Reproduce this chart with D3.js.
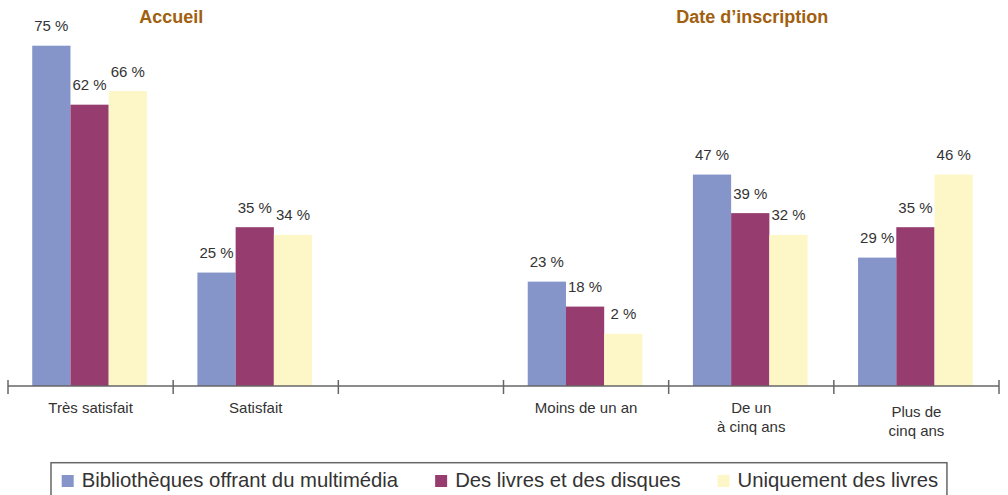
<!DOCTYPE html>
<html>
<head>
<meta charset="utf-8">
<script src="https://cdn.jsdelivr.net/npm/d3@7"></script>
<style>
  body { margin: 0; background: #fff; }
  svg { display: block; font-family: "Liberation Sans", Arial, sans-serif; }
</style>
</head>
<body>
<div id="chart"></div>
<script>
// categories along the axis (empty slot between the two blocks)
const categories = ["Très satisfait", "Satisfait", "", "Moins de un an", "De un\nà cinq ans", "Plus de\ncinq ans"];
const series = ["Bibliothèques offrant du multimédia", "Des livres et des disques", "Uniquement des livres"];

// bar heights as drawn
const multimedia = [75, 25, null, 23, 46.6, 28.3];
const livresDisques = [62, 35, null, 17.5, 38.1, 35];
const livresSeuls = [65, 33.3, null, 11.5, 33.3, 46.6];

// values printed above the bars
const multimediaLabels = ["75 %", "25 %", "", "23 %", "47 %", "29 %"];
const livresDisquesLabels = ["62 %", "35 %", "", "18 %", "39 %", "35 %"];
const livresSeulsLabels = ["66 %", "34 %", "", "2 %", "32 %", "46 %"];

// block titles
const titles = ["Accueil", "Date d\u2019inscription"];

const colors = ["#8595c9", "#963c6e", "#fdf7c8"];
const textColor = "#333";

const width = 1008;
const height = 495;
const axisY = 386;

const svg = d3.select("#chart")
  .append("svg")
  .attr("width", width)
  .attr("height", height);

// build rows from the arrays
const valueSets = [multimedia, livresDisques, livresSeuls];
const labelSets = [multimediaLabels, livresDisquesLabels, livresSeulsLabels];
const rows = [];
categories.forEach((c, i) => {
  series.forEach((s, j) => {
    if (valueSets[j][i] != null) {
      rows.push({ cat: c, serie: s, idx: j, value: valueSets[j][i], label: labelSets[j][i] });
    }
  });
});

// scales
const x = d3.scaleBand()
  .domain(categories)
  .range([8, 999])
  .padding(0);

const xSub = d3.scaleBand()
  .domain(series)
  .range([0, x.bandwidth()])
  .paddingInner(0)
  .paddingOuter(0.66);

const y = d3.scaleLinear()
  .domain([0, 75])
  .range([axisY, 45.7]);

// bars
svg.append("g")
  .selectAll("rect")
  .data(rows)
  .join("rect")
  .attr("x", d => x(d.cat) + xSub(d.serie) - 1)
  .attr("y", d => y(d.value))
  .attr("width", xSub.bandwidth())
  .attr("height", d => y(0) - y(d.value))
  .attr("fill", d => colors[d.idx]);

// value labels
svg.append("g")
  .selectAll("text")
  .data(rows)
  .join("text")
  .attr("x", d => x(d.cat) + xSub(d.serie) - 1 + xSub.bandwidth() / 2)
  .attr("y", d => y(d.value) - 14.5)
  .attr("text-anchor", "middle")
  .attr("font-size", 15)
  .attr("fill", textColor)
  .text(d => d.label);

// axis line and ticks at band edges
const axis = svg.append("g");
axis.append("line")
  .attr("x1", x.range()[0])
  .attr("x2", x.range()[1])
  .attr("y1", axisY)
  .attr("y2", axisY)
  .attr("stroke", "#666")
  .attr("stroke-width", 1.5);

const tickPos = categories.map(c => x(c)).concat([x.range()[1]]);
axis.selectAll(".tick")
  .data(tickPos)
  .join("line")
  .attr("class", "tick")
  .attr("x1", d => d)
  .attr("x2", d => d)
  .attr("y1", axisY - 6)
  .attr("y2", axisY + 8)
  .attr("stroke", "#666")
  .attr("stroke-width", 1.5);

// category labels, multi-line
const catLabels = axis.selectAll(".cat")
  .data(categories.filter(c => c !== ""))
  .join("text")
  .attr("class", "cat")
  .attr("text-anchor", "middle")
  .attr("font-size", 15)
  .attr("fill", textColor)
  .attr("transform", d => {
    // "Plus de cinq ans" sits a little lower in the original
    const shift = d.startsWith("Plus") ? 3.5 : 0;
    return `translate(${x(d) + x.bandwidth() / 2}, ${413 + shift})`;
  });

catLabels.selectAll("tspan")
  .data(d => d.split("\n"))
  .join("tspan")
  .attr("x", 0)
  .attr("dy", (d, i) => i === 0 ? 0 : 19)
  .text(d => d);

// block titles
const titleX = [
  (x(categories[0]) + x(categories[1]) + x.bandwidth()) / 2 - 2,
  (x(categories[3]) + x(categories[5]) + x.bandwidth()) / 2 + 1
];
svg.append("g")
  .selectAll("text")
  .data(titles)
  .join("text")
  .attr("x", (d, i) => titleX[i])
  .attr("y", 23)
  .attr("text-anchor", "middle")
  .attr("font-size", 18)
  .attr("font-weight", "bold")
  .attr("fill", "#a1600d")
  .text(d => d);

// legend
const legend = svg.append("g");
const legendBox = legend.append("rect")
  .attr("x", 51)
  .attr("y", 462.7)
  .attr("height", 40)
  .attr("fill", "none")
  .attr("stroke", "#666")
  .attr("stroke-width", 1.5);

let lx = 61.7;
series.forEach((s, i) => {
  legend.append("rect")
    .attr("x", lx)
    .attr("y", 475)
    .attr("width", 12)
    .attr("height", 12)
    .attr("fill", colors[i]);
  const t = legend.append("text")
    .attr("x", lx + 20)
    .attr("y", 486.7)
    .attr("font-size", 20.3)
    .attr("fill", textColor)
    .text(s);
  const w = t.node().getComputedTextLength();
  lx = lx + 20 + w + (i < series.length - 1 ? 37 : 8.7);
});
legendBox.attr("width", lx - 51);
</script>
</body>
</html>
